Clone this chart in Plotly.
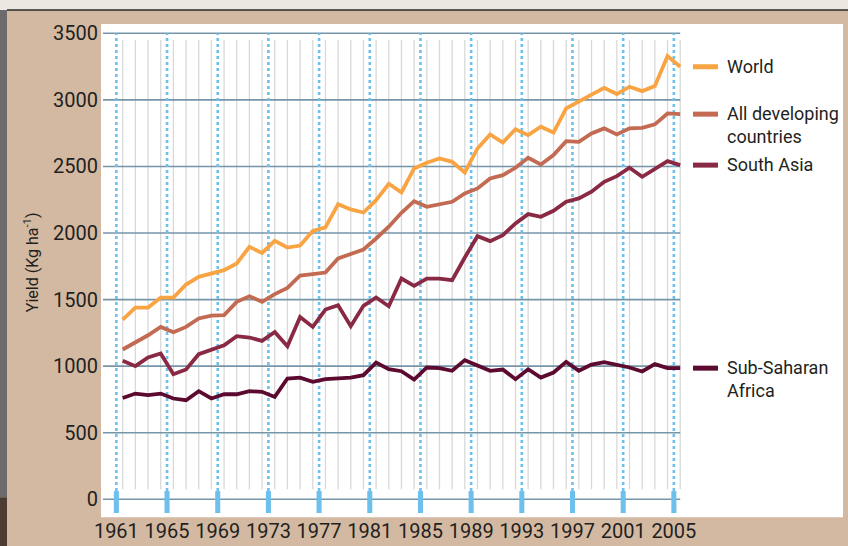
import plotly.graph_objects as go

# ---------------- data ----------------
years = list(range(1961, 2006))

world = [1350, 1440, 1440, 1515, 1515, 1613, 1671, 1696, 1721, 1771,
         1896, 1851, 1941, 1891, 1906, 2016, 2042, 2217, 2177, 2154,
         2247, 2370, 2305, 2485, 2528, 2560, 2535, 2455, 2635, 2740,
         2680, 2780, 2735, 2798, 2755, 2936, 2986, 3044, 3091, 3044,
         3099, 3066, 3104, 3329, 3249]

developing = [1125, 1175, 1232, 1295, 1255, 1295, 1358, 1380, 1383, 1483,
              1525, 1483, 1541, 1588, 1681, 1691, 1703, 1809, 1846, 1876,
              1959, 2047, 2152, 2239, 2197, 2215, 2235, 2297, 2335, 2410,
              2435, 2490, 2565, 2515, 2585, 2690, 2685, 2748, 2786, 2740,
              2786, 2790, 2816, 2898, 2893]

south_asia = [1040, 1000, 1065, 1095, 939, 975, 1090, 1125, 1157, 1225,
              1215, 1190, 1257, 1150, 1370, 1295, 1425, 1458, 1300, 1453,
              1516, 1450, 1658, 1603, 1658, 1658, 1646, 1816, 1976, 1939,
              1984, 2072, 2142, 2122, 2167, 2235, 2260, 2310, 2385, 2427,
              2490, 2422, 2485, 2540, 2510]

ssa = [761, 794, 782, 794, 757, 744, 812, 757, 789, 789,
       812, 807, 769, 907, 914, 882, 902, 905, 914, 932,
       1027, 977, 962, 899, 990, 985, 965, 1045, 1005, 965,
       975, 902, 977, 914, 952, 1032, 965, 1012, 1030, 1010,
       990, 960, 1015, 985, 985]

series = [world, developing, south_asia, ssa]
series_names = ["World", "All developing countries", "South Asia", "Sub-Saharan Africa"]
legend_labels = ["World", "All developing<br>countries", "South Asia", "Sub-Saharan<br>Africa"]
colors = ["#f8a443", "#c26a52", "#8a2944", "#5c0a2f"]

tick_years = list(range(1961, 2006, 4))
tick_labels = [str(y) for y in tick_years]
y_ticks = list(range(0, 3501, 500))
y_title = "Yield (Kg ha<sup>-1</sup>)"

# ---------------- layout geometry ----------------
W, H = 848, 546
L, R, T, B = 103, 684, 24, 516.7
XR = [years[0] - 1.555, years[-1] + 0.3]
YR = [-133, 3570]

def px_x(p):
    return (p - L) / (R - L)

def px_y(p):
    return (B - p) / (B - T)

FONT = "Roboto, Liberation Sans, sans-serif"
TXT = "#231f20"
TAN = "#d3b9a2"
GRID = "#7595a8"
BLUE = "#6ec0ec"
VGRAY = "#d9d9d9"

fig = go.Figure()

for vals, name, col in zip(series, series_names, colors):
    fig.add_trace(go.Scatter(x=years, y=vals, mode="lines", name=name,
                             line=dict(color=col, width=3.8),
                             showlegend=False, hoverinfo="x+y+name"))

shapes = []
# frame / background pieces (paper)
shapes.append(dict(type="rect", xref="paper", yref="paper", layer="below",
                   x0=px_x(101), x1=px_x(843), y0=px_y(517), y1=px_y(24),
                   fillcolor="white", line=dict(width=0)))
shapes.append(dict(type="rect", xref="paper", yref="paper", layer="below",
                   x0=px_x(0), x1=px_x(W), y0=px_y(10), y1=px_y(0),
                   fillcolor="#ede7e2", line=dict(width=0)))
shapes.append(dict(type="rect", xref="paper", yref="paper", layer="below",
                   x0=px_x(0), x1=px_x(7), y0=px_y(497), y1=px_y(10),
                   fillcolor="#6c6b6b", line=dict(width=0)))
shapes.append(dict(type="rect", xref="paper", yref="paper", layer="below",
                   x0=px_x(0), x1=px_x(7), y0=px_y(H), y1=px_y(497),
                   fillcolor="#4c3c31", line=dict(width=0)))
shapes.append(dict(type="line", xref="paper", yref="paper", layer="below",
                   x0=px_x(7), x1=px_x(W), y0=px_y(10), y1=px_y(10),
                   line=dict(color="#2a2a2a", width=1.5)))

# thin gray verticals at each year
for yv in years:
    shapes.append(dict(type="line", xref="x", yref="y", layer="below",
                       x0=yv, x1=yv, y0=75, y1=3450,
                       line=dict(color=VGRAY, width=1.3)))
# horizontal grid lines
for v in y_ticks:
    shapes.append(dict(type="line", xref="x", yref="y", layer="below",
                       x0=XR[0], x1=years[-1], y0=v, y1=v,
                       line=dict(color=GRID, width=1.6)))
# dotted blue year-group lines and tick blocks
for ty in tick_years:
    xv = ty - 0.5
    shapes.append(dict(type="line", xref="x", yref="y", layer="below",
                       x0=xv, x1=xv, y0=62, y1=3500,
                       line=dict(color=BLUE, width=2.6, dash="dot")))
    shapes.append(dict(type="rect", xref="x", yref="y", layer="below",
                       x0=xv - 0.2, x1=xv + 0.2, y0=-103, y1=62,
                       fillcolor=BLUE, line=dict(width=0)))

# direct-label legend keys at each series' final value
annotations = []
for vals, lab, col in zip(series, legend_labels, colors):
    last = vals[-1]
    shapes.append(dict(type="line", xref="paper", yref="y",
                       x0=px_x(693), x1=px_x(718), y0=last, y1=last,
                       line=dict(color=col, width=5)))
    annotations.append(dict(xref="paper", yref="y", x=px_x(725), y=last,
                            text=lab, showarrow=False, xanchor="left",
                            yanchor="top", yshift=13, align="left",
                            font=dict(family=FONT, size=18, color=TXT)))

annotations.append(dict(xref="paper", yref="paper", x=px_x(31), y=px_y(262),
                        text=y_title, showarrow=False, textangle=-90,
                        xanchor="center", yanchor="middle",
                        font=dict(family=FONT, size=16, color=TXT)))

fig.update_layout(
    width=W, height=H,
    margin=dict(l=L, r=W - R, t=T, b=H - B, autoexpand=False),
    paper_bgcolor=TAN, plot_bgcolor="white",
    shapes=shapes, annotations=annotations,
    xaxis=dict(range=XR, showgrid=False, zeroline=False, showline=False,
               automargin=False,
               tickvals=[t - 0.5 for t in tick_years], ticktext=tick_labels,
               ticks="", tickangle=0, ticklabelstandoff=0,
               tickfont=dict(family=FONT, size=20, color=TXT)),
    yaxis=dict(range=YR, showgrid=False, zeroline=False, showline=False,
               automargin=False,
               tickvals=y_ticks, ticks="", ticklabelstandoff=4,
               tickfont=dict(family=FONT, size=20, color=TXT)),
    font=dict(family=FONT, color=TXT),
)

fig.write_html("out.html", config={"displayModeBar": False},
               post_script="document.body.style.margin='0';document.body.style.padding='0';")
